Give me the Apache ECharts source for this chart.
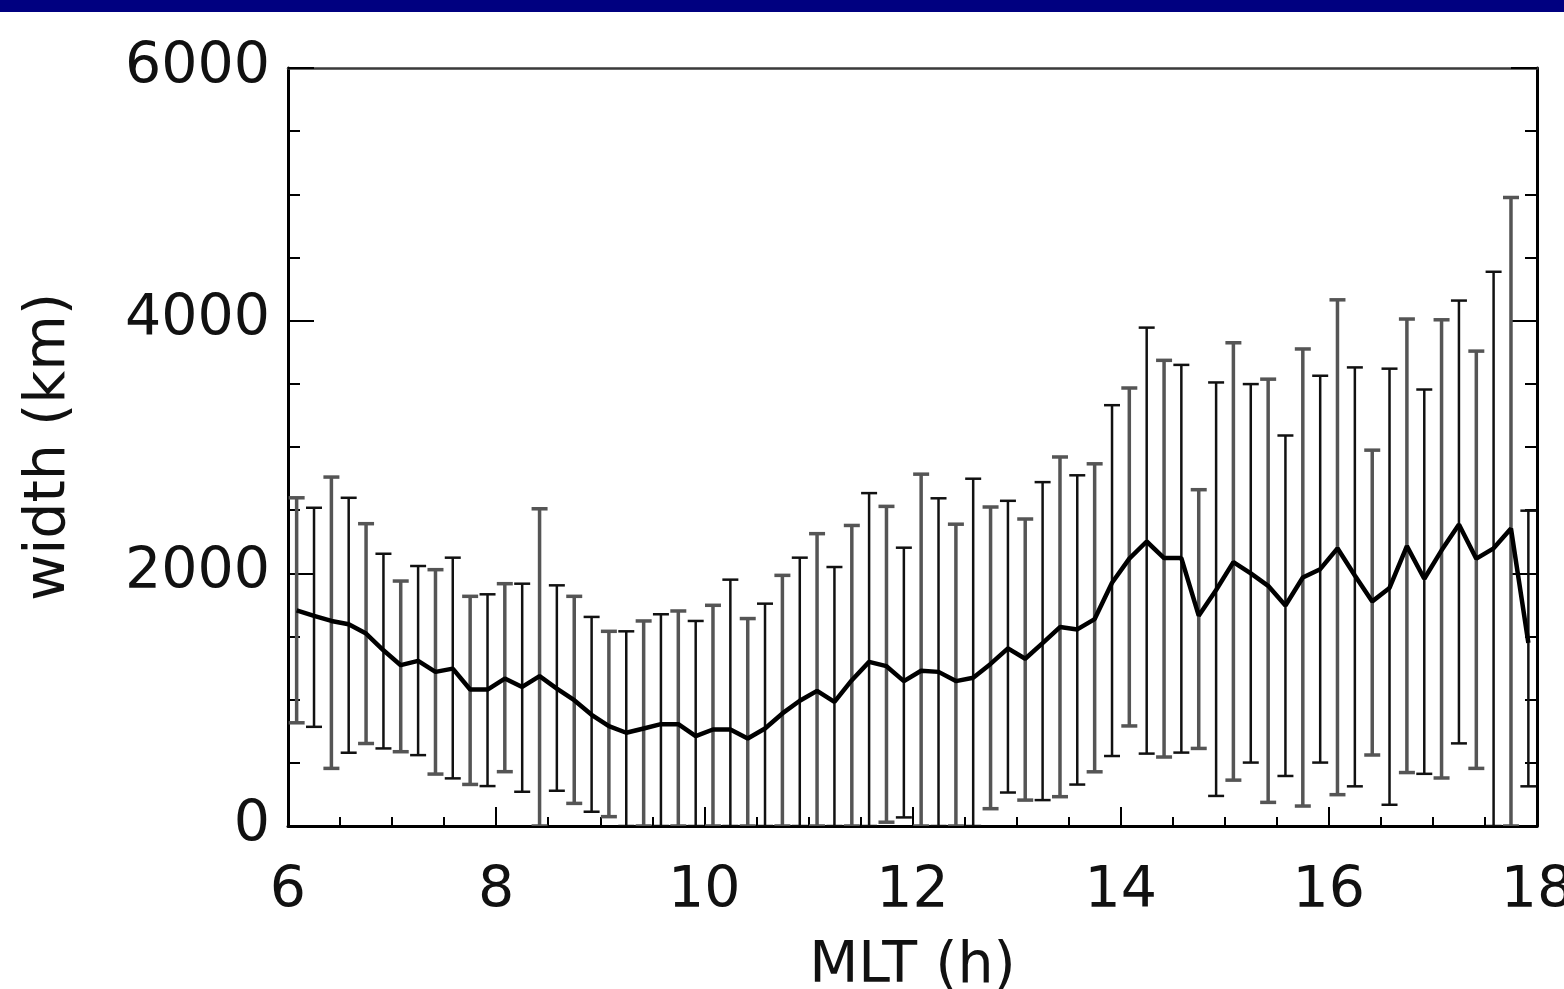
<!DOCTYPE html>
<html>
<head>
<meta charset="utf-8">
<script src="https://cdn.jsdelivr.net/npm/echarts@6/dist/echarts.min.js"></script>
<style>
html,body{margin:0;padding:0;background:#fff;}
#chart{width:1564px;height:989px;}
</style>
</head>
<body>
<div id="chart"></div>
<script>
// MLT bin centres (h)
const mlt = [6.083,6.25,6.417,6.583,6.75,6.917,7.083,7.25,7.417,7.583,7.75,7.917,
8.083,8.25,8.417,8.583,8.75,8.917,9.083,9.25,9.417,9.583,9.75,9.917,
10.083,10.25,10.417,10.583,10.75,10.917,11.083,11.25,11.417,11.583,11.75,11.917,
12.083,12.25,12.417,12.583,12.75,12.917,13.083,13.25,13.417,13.583,13.75,13.917,
14.083,14.25,14.417,14.583,14.75,14.917,15.083,15.25,15.417,15.583,15.75,15.917,
16.083,16.25,16.417,16.583,16.75,16.917,17.083,17.25,17.417,17.583,17.75,17.917];
// mean width (km)
const meanWidth = [1707,1663,1623,1597,1523,1391,1273,1307,1220,1246,1080,1080,
1167,1101,1186,1088,996,880,790,738,772,806,806,711,
764,764,693,772,891,991,1070,983,1154,1299,1265,1147,
1229,1220,1147,1174,1283,1406,1324,1447,1575,1556,1638,1925,
2116,2252,2121,2121,1665,1868,2089,2000,1901,1745,1967,2033,
2198,1983,1778,1884,2215,1957,2182,2387,2116,2198,2354,1450];
// upper end of error bar (km)
const upperWidth = [2598,2519,2762,2598,2393,2155,1939,2058,2029,2124,1818,1834,
1918,1918,2511,1905,1818,1655,1541,1541,1623,1676,1702,1623,
1747,1950,1642,1760,1984,2124,2314,2050,2379,2635,2530,2203,
2785,2594,2389,2749,2525,2574,2430,2722,2921,2776,2867,3331,
3467,3945,3686,3650,2662,3511,3825,3498,3537,3091,3776,3564,
4165,3630,2975,3620,4013,3455,4007,4159,3759,4387,4975,2496];
// lower end of error bar (km)
const lowerWidth = [817,785,456,580,653,614,588,561,411,377,329,316,
430,271,0,279,179,113,74,0,0,0,0,0,
0,0,0,0,0,0,0,0,0,0,30,68,
0,0,0,0,137,265,205,205,232,328,429,554,
792,573,546,581,614,238,363,502,187,396,158,502,
248,314,562,168,423,413,380,654,456,0,0,314];
const xTicks = [6,8,10,12,14,16,18];
const yTicks = [0,2000,4000,6000];

const FONT = 'DejaVu Sans';
const errData = mlt.map((x,i)=>[x, lowerWidth[i], upperWidth[i]]);
const lineData = mlt.map((x,i)=>[x, meanWidth[i]]);

function renderErr(params, api){
  const x = api.value(0), lo = api.value(1), hi = api.value(2);
  const pLo = api.coord([x, lo]);
  const pHi = api.coord([x, hi]);
  const even = params.dataIndex % 2 === 0;
  const color = even ? '#555' : '#111';
  const w = even ? 3.5 : 2.5;
  const hw = 8;
  const st = {stroke: color, lineWidth: w};
  return {type:'group', children:[
    {type:'line', shape:{x1:pLo[0], y1:pLo[1], x2:pHi[0], y2:pHi[1]}, style:st},
    {type:'line', shape:{x1:pHi[0]-hw, y1:pHi[1], x2:pHi[0]+hw, y2:pHi[1]}, style:st},
    {type:'line', shape:{x1:pLo[0]-hw, y1:pLo[1], x2:pLo[0]+hw, y2:pLo[1]}, style:st}
  ]};
}

const chart = echarts.init(document.getElementById('chart'), null, {renderer:'canvas'});
chart.setOption({
  animation:false,
  backgroundColor:'#fff',
  graphic:[{type:'rect', left:0, top:0, shape:{width:1564, height:12}, style:{fill:'#000080'}, z:100}],
  grid:{left:288, right:27, top:68, bottom:163, containLabel:false, outerBoundsMode:'none'},
  xAxis:[{
    type:'value', min:6, max:18, interval:2, position:'bottom',
    axisLine:{lineStyle:{color:'#000', width:3}},
    axisTick:{inside:true, length:19, lineStyle:{color:'#000', width:2}},
    minorTick:{show:true, splitNumber:4, length:9, lineStyle:{color:'#000', width:2}},
    splitLine:{show:false},
    axisLabel:{fontFamily:FONT, fontSize:57, color:'#111', margin:38,
      formatter:(v)=> xTicks.includes(v) ? String(v) : ''},
    name:'MLT (h)', nameLocation:'middle', nameGap:113,
    nameTextStyle:{fontFamily:FONT, fontSize:57, color:'#111'}
  },{
    type:'value', min:6, max:18, position:'top',
    axisLine:{show:true, onZero:false, lineStyle:{color:'#3a3a3a', width:2.5}},
    axisTick:{show:false}, axisLabel:{show:false}, splitLine:{show:false}
  }],
  yAxis:[{
    type:'value', min:0, max:6000, interval:2000, position:'left',
    axisLine:{show:true, lineStyle:{color:'#000', width:3}},
    axisTick:{show:true, inside:true, length:26, lineStyle:{color:'#000', width:2}},
    minorTick:{show:true, splitNumber:4, length:12, lineStyle:{color:'#000', width:2}},
    splitLine:{show:false},
    axisLabel:{fontFamily:FONT, fontSize:57, color:'#111', margin:18,
      formatter:(v)=> yTicks.includes(v) ? String(v) : ''},
    name:'width (km)', nameLocation:'middle', nameGap:210, nameRotate:90,
    nameTextStyle:{fontFamily:FONT, fontSize:57, color:'#111'}
  },{
    type:'value', min:0, max:6000, interval:2000, position:'right',
    axisLine:{show:true, lineStyle:{color:'#000', width:3}},
    axisTick:{show:true, inside:true, length:26, lineStyle:{color:'#000', width:2}},
    minorTick:{show:true, splitNumber:4, length:12, lineStyle:{color:'#000', width:2}},
    splitLine:{show:false}, axisLabel:{show:false}
  }],
  series:[{
    type:'custom', renderItem:renderErr, data:errData, clip:true,
    encode:{x:0, y:[1,2]}, z:2
  },{
    type:'line', data:lineData, symbol:'none', z:3,
    lineStyle:{color:'#000', width:4.5}
  }]
});
</script>
</body>
</html>
